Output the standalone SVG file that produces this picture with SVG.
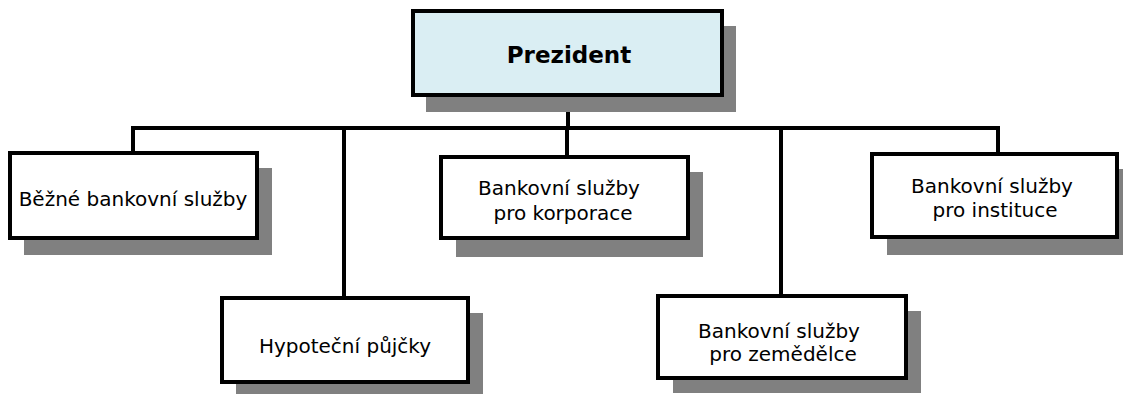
<svg xmlns="http://www.w3.org/2000/svg" width="1123" height="394" viewBox="0 0 1123 394">
  <style>
    .shadow { fill: #808080; }
    .box { fill: #ffffff; stroke: #000000; stroke-width: 4; }
    .top { fill: #daeef3; }
    .wire { fill: none; stroke: #000000; stroke-width: 4; stroke-linecap: square; }
    text { font-family: "DejaVu Sans", Verdana, sans-serif; font-size: 20px; fill: #000000; text-anchor: middle; }
    .title { font-size: 23px; font-weight: bold; }
  </style>

  <!-- connectors -->
  <g id="connectors">
    <path class="wire" d="M568 95 V128"/>
    <path class="wire" d="M133 153 V128 H998 V154"/>
    <path class="wire" d="M344 128 V298"/>
    <path class="wire" d="M567 128 V157"/>
    <path class="wire" d="M781 128 V296"/>
  </g>

  <g id="prezident">
    <rect class="shadow" x="426" y="26" width="310" height="86"/>
    <rect class="box top" x="413" y="11" width="309" height="84"/>
    <text class="title" x="569" y="63">Prezident</text>
  </g>

  <g id="bezne">
    <rect class="shadow" x="24" y="168" width="248" height="87"/>
    <rect class="box" x="10" y="153" width="247" height="85"/>
    <text x="133" y="206">Běžné bankovní služby</text>
  </g>

  <g id="hypotecni">
    <rect class="shadow" x="236" y="313" width="247" height="86"/>
    <rect class="box" x="222" y="298" width="246" height="84"/>
    <text x="345" y="353">Hypoteční půjčky</text>
  </g>

  <g id="korporace">
    <rect class="shadow" x="456" y="172" width="247" height="85"/>
    <rect class="box" x="441" y="157" width="247" height="81"/>
    <text x="559" y="195">Bankovní služby</text>
    <text x="563" y="220">pro korporace</text>
  </g>

  <g id="zemedelce">
    <rect class="shadow" x="673" y="311" width="248" height="82"/>
    <rect class="box" x="658" y="296" width="248" height="82"/>
    <text x="779" y="338">Bankovní služby</text>
    <text x="783" y="361">pro zemědělce</text>
  </g>

  <g id="instituce">
    <rect class="shadow" x="887" y="169" width="245" height="86"/>
    <rect class="box" x="872" y="154" width="245" height="83"/>
    <text x="992" y="193">Bankovní služby</text>
    <text x="995" y="217">pro instituce</text>
  </g>
</svg>
